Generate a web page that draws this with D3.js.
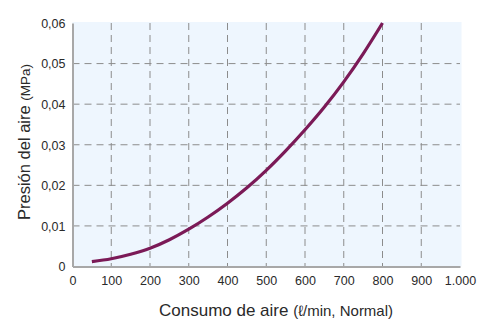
<!DOCTYPE html>
<html><head><meta charset="utf-8">
<script src="https://cdn.jsdelivr.net/npm/d3@7"></script>
<style>body{margin:0;background:#fff}svg{display:block}text{font-family:"Liberation Sans",Arial,sans-serif;fill:#2a2a2a}</style>
</head><body>
<svg id="c" width="484" height="320"></svg>
<script>
const flowValues = [50,100,150,200,250,300,350,400,450,500,550,600,650,700,750,800];
const pressureValues = [0.0012,0.0019,0.003,0.0045,0.0066,0.0092,0.0122,0.0156,0.0194,0.0237,0.0285,0.0337,0.0393,0.0455,0.0524,0.06];
const xTicks = [0,100,200,300,400,500,600,700,800,900,1000];
const xTickLabels = ["0","100","200","300","400","500","600","700","800","900","1.000"];
const yTicks = [0,0.01,0.02,0.03,0.04,0.05,0.06];
const yTickLabels = ["0","0,01","0,02","0,03","0,04","0,05","0,06"];

const svg = d3.select("#c");
const L=72.5, R=460, T=23, B=266.5;
const x = d3.scaleLinear().domain([0,1000]).range([L,R]);
const y = d3.scaleLinear().domain([0,0.06]).range([B,T]);

svg.append("rect").attr("x",L).attr("y",T-1).attr("width",R-L+1.5).attr("height",B-T+1).attr("fill","#eef6fe");

// grid
svg.append("g").selectAll("line").data(xTicks.slice(1,-1)).join("line")
  .attr("x1",d=>x(d)).attr("x2",d=>x(d)).attr("y1",T).attr("y2",B)
  .attr("stroke","#8c8c8c").attr("stroke-width",1).attr("stroke-dasharray","7,5");
svg.append("g").selectAll("line").data(yTicks.slice(1,-1)).join("line")
  .attr("x1",L).attr("x2",R).attr("y1",d=>y(d)).attr("y2",d=>y(d))
  .attr("stroke","#8c8c8c").attr("stroke-width",1).attr("stroke-dasharray","7,5");

// axes
const xAxis = svg.append("g").attr("transform",`translate(0,${B})`)
  .call(d3.axisBottom(x).tickValues(xTicks).tickFormat((d,i)=>xTickLabels[i]).tickSize(0).tickPadding(7));
const yAxis = svg.append("g").attr("transform",`translate(${L},0)`)
  .call(d3.axisLeft(y).tickValues(yTicks).tickFormat((d,i)=>yTickLabels[i]).tickSize(0).tickPadding(7));
[xAxis,yAxis].forEach(a=>{
  a.select(".domain").attr("stroke","#a8a8a8").attr("stroke-width",2);
  a.selectAll("text").attr("font-family","Liberation Sans, Arial, sans-serif").attr("font-size",12.5).attr("fill","#2a2a2a");
});
xAxis.selectAll(".tick text").attr("dy","0.9em");
yAxis.selectAll(".tick text").attr("dy","0.35em");

// curve
const line = d3.line().x((d,i)=>x(flowValues[i])).y(d=>y(d)).curve(d3.curveMonotoneX);
svg.append("path").attr("d",line(pressureValues)).attr("fill","none")
  .attr("stroke","#7b1a57").attr("stroke-width",3.2).attr("stroke-linecap","butt");

// titles
const xt = svg.append("text").attr("x",159).attr("y",316);
xt.append("tspan").attr("font-size",17).text("Consumo de aire ");
xt.append("tspan").attr("font-size",15).text("(ℓ/min, Normal)");
const yt = svg.append("text").attr("transform","translate(29.5,142) rotate(-90)").attr("text-anchor","middle");
yt.append("tspan").attr("font-size",16.5).text("Presión del aire ");
yt.append("tspan").attr("font-size",13.5).text("(MPa)");
</script>
</body></html>
